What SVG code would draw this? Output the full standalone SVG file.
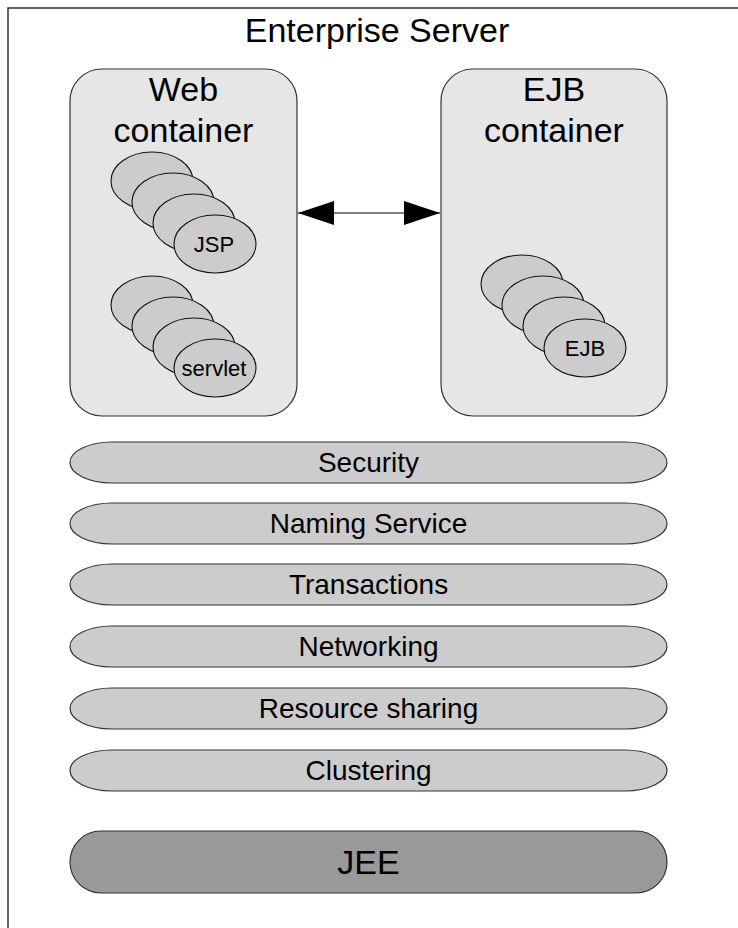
<svg xmlns="http://www.w3.org/2000/svg" width="738" height="928" viewBox="0 0 738 928">
<style>
text{font-family:"Liberation Sans",Arial,sans-serif;fill:#000;text-anchor:middle}
.cont{fill:#e6e6e6;stroke:#333;stroke-width:1.2}
.el{fill:#cccccc;stroke:#111;stroke-width:1.1}
.bar{fill:#cccccc;stroke:#333;stroke-width:1.2}
.jee{fill:#999999;stroke:#333;stroke-width:1.2}
.big{font-size:34px}
.svc{font-size:28px}
.small{font-size:22px}
</style>
<defs>
<marker id="ah" viewBox="0 0 36 24" refX="36" refY="12" markerWidth="36" markerHeight="24" markerUnits="userSpaceOnUse" orient="auto-start-reverse">
<path d="M0,0 L36,12 L0,24 Z" fill="#000"/>
</marker>
</defs>
<rect id="server" x="8" y="8" width="740" height="930" fill="#fff" stroke="#333" stroke-width="1.5"/>
<text x="377" y="42" style="font-size:34px">Enterprise Server</text>

<g id="web-container">
<rect class="cont" x="70" y="69" width="227" height="347" rx="32" ry="32"/>
<text class="big" x="183.5" y="101">Web</text>
<text class="big" x="183.5" y="142">container</text>
</g>
<g id="jsp">
<ellipse class="el" cx="152" cy="181" rx="41" ry="29"/>
<ellipse class="el" cx="173" cy="202" rx="41" ry="29"/>
<ellipse class="el" cx="194" cy="223" rx="41" ry="29"/>
<ellipse class="el" cx="215" cy="244" rx="41" ry="29"/>
<text class="small" x="214" y="252">JSP</text>
</g>
<g id="servlet">
<ellipse class="el" cx="152" cy="305" rx="41" ry="29"/>
<ellipse class="el" cx="173" cy="326" rx="41" ry="29"/>
<ellipse class="el" cx="194" cy="347" rx="41" ry="29"/>
<ellipse class="el" cx="215" cy="368" rx="41" ry="29"/>
<text class="small" x="214" y="376">servlet</text>
</g>

<g id="ejb-container">
<rect class="cont" x="441" y="69" width="226" height="347" rx="32" ry="32"/>
<text class="big" x="554" y="101">EJB</text>
<text class="big" x="554" y="142">container</text>
</g>
<g id="ejb">
<ellipse class="el" cx="522" cy="284" rx="41" ry="29"/>
<ellipse class="el" cx="543" cy="305" rx="41" ry="29"/>
<ellipse class="el" cx="564" cy="326" rx="41" ry="29"/>
<ellipse class="el" cx="585" cy="348" rx="41" ry="29"/>
<text class="small" x="585" y="356">EJB</text>
</g>

<g id="connectors">
<line x1="298" y1="213" x2="440" y2="213" stroke="#808080" stroke-width="1.8" marker-start="url(#ah)" marker-end="url(#ah)"/>
</g>

<g id="security">
<rect class="bar" x="70" y="442" width="597" height="41" rx="42" ry="20.5"/>
<text class="svc" x="368.5" y="472">Security</text>
</g>
<g id="naming">
<rect class="bar" x="70" y="503" width="597" height="41" rx="42" ry="20.5"/>
<text class="svc" x="368.5" y="533">Naming Service</text>
</g>
<g id="transactions">
<rect class="bar" x="70" y="564" width="597" height="41" rx="42" ry="20.5"/>
<text class="svc" x="368.5" y="594">Transactions</text>
</g>
<g id="networking">
<rect class="bar" x="70" y="626" width="597" height="41" rx="42" ry="20.5"/>
<text class="svc" x="368.5" y="656">Networking</text>
</g>
<g id="resource">
<rect class="bar" x="70" y="688" width="597" height="41" rx="42" ry="20.5"/>
<text class="svc" x="368.5" y="718">Resource sharing</text>
</g>
<g id="clustering">
<rect class="bar" x="70" y="750" width="597" height="41" rx="42" ry="20.5"/>
<text class="svc" x="368.5" y="780">Clustering</text>
</g>
<g id="jee">
<rect class="jee" x="70" y="831" width="597" height="62" rx="31" ry="31"/>
<text class="big" x="368.5" y="874">JEE</text>
</g>
</svg>
